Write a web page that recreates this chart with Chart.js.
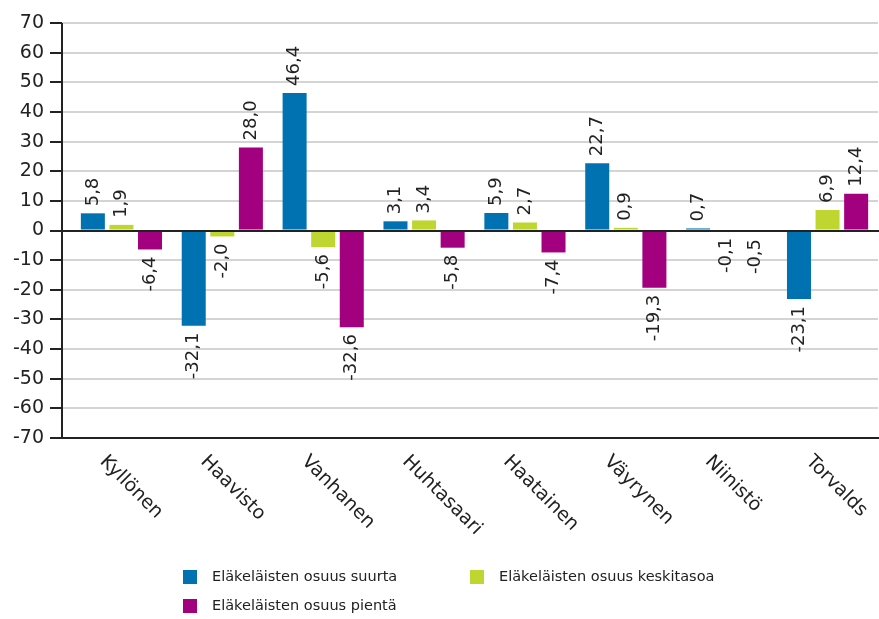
<!DOCTYPE html>
<html>
<head>
<meta charset="utf-8">
<script src="https://cdn.jsdelivr.net/npm/chart.js@4.4.1/dist/chart.umd.min.js"></script>
<style>
  body { margin: 0; background: #fff; }
  #wrap { width: 879px; height: 619px; }
</style>
</head>
<body>
<div id="wrap"><canvas id="myChart"></canvas></div>
<script>
const candidates = ['Kyllönen', 'Haavisto', 'Vanhanen', 'Huhtasaari', 'Haatainen', 'Väyrynen', 'Niinistö', 'Torvalds'];
const seriesNames = ['Eläkeläisten osuus suurta', 'Eläkeläisten osuus keskitasoa', 'Eläkeläisten osuus pientä'];
const suurta = [5.8, -32.1, 46.4, 3.1, 5.9, 22.7, 0.7, -23.1];
const keskitasoa = [1.9, -2.0, -5.6, 3.4, 2.7, 0.9, -0.1, 6.9];
const pienta = [-6.4, 28.0, -32.6, -5.8, -7.4, -19.3, -0.5, 12.4];
const seriesColors = ['#0072b1', '#bed62f', '#a2007e'];
const yMin = -70;
const yMax = 70;
const yStep = 10;

const FONT = '"DejaVu Sans", sans-serif';
const TEXT = '#222';
const AXIS = '#222';
const GRID = '#d4d4d4';

// comma decimals like the original
const fmt = v => v.toFixed(1).replace('.', ',');

// axis lines, value labels, slanted names and the legend
const decorations = {
  id: 'decorations',
  afterDatasetsDraw(chart) {
    const ctx = chart.ctx;
    const area = chart.chartArea;
    const xs = chart.scales.x;
    const ys = chart.scales.y;
    const axisX = area.left - 9;
    ctx.save();

    // grid stubs + tick marks left of the plot
    ys.ticks.forEach(t => {
      const py = Math.round(ys.getPixelForValue(t.value));
      if (t.value !== 0 && t.value !== yMin) {
        ctx.strokeStyle = GRID;
        ctx.lineWidth = 2;
        ctx.beginPath();
        ctx.moveTo(axisX, py);
        ctx.lineTo(area.left, py);
        ctx.stroke();
      }
      ctx.strokeStyle = AXIS;
      ctx.lineWidth = 2;
      ctx.beginPath();
      ctx.moveTo(axisX - 12, py);
      ctx.lineTo(axisX, py);
      ctx.stroke();
    });

    // zero line and bottom axis
    [0, yMin].forEach(v => {
      const py = Math.round(ys.getPixelForValue(v));
      ctx.strokeStyle = AXIS;
      ctx.lineWidth = 2;
      ctx.beginPath();
      ctx.moveTo(axisX - 12, py);
      ctx.lineTo(area.right + 1, py);
      ctx.stroke();
    });

    // vertical axis
    ctx.beginPath();
    ctx.moveTo(axisX, Math.round(ys.getPixelForValue(yMax)));
    ctx.lineTo(axisX, Math.round(ys.getPixelForValue(yMin)) + 1);
    ctx.stroke();

    // value labels, rotated
    ctx.fillStyle = TEXT;
    ctx.font = '18px ' + FONT;
    ctx.textBaseline = 'middle';
    chart.data.datasets.forEach((ds, di) => {
      const meta = chart.getDatasetMeta(di);
      meta.data.forEach((bar, i) => {
        const v = ds.data[i];
        ctx.save();
        if (v >= 0) {
          ctx.translate(bar.x, bar.y - 7);
          ctx.rotate(-Math.PI / 2);
          ctx.textAlign = 'left';
        } else {
          ctx.translate(bar.x, bar.y + 7);
          ctx.rotate(-Math.PI / 2);
          ctx.textAlign = 'right';
        }
        ctx.fillText(fmt(v), 0, 0);
        ctx.restore();
      });
    });

    // category names, slanted down to the right
    ctx.font = '19px ' + FONT;
    ctx.textBaseline = 'top';
    ctx.textAlign = 'left';
    candidates.forEach((name, i) => {
      const cx = xs.getPixelForValue(i);
      ctx.save();
      ctx.translate(cx - 12, area.bottom + 14);
      ctx.rotate(Math.PI / 4);
      ctx.fillText(name, 0, 0);
      ctx.restore();
    });

    // legend, two columns
    const cols = [183, 470];
    const rows = [577, 606];
    ctx.font = '14.5px ' + FONT;
    ctx.textBaseline = 'middle';
    seriesNames.forEach((name, i) => {
      const lx = cols[i % 2];
      const ly = rows[Math.floor(i / 2)];
      ctx.fillStyle = seriesColors[i];
      ctx.fillRect(lx, ly - 7, 14, 14);
      ctx.fillStyle = TEXT;
      ctx.fillText(name, lx + 29, ly);
    });

    ctx.restore();
  }
};

const data = {
  labels: candidates,
  datasets: [suurta, keskitasoa, pienta].map((vals, i) => ({
    label: seriesNames[i],
    data: vals,
    backgroundColor: seriesColors[i],
    borderWidth: 0,
    barPercentage: 0.84,
    categoryPercentage: 0.85
  }))
};

const config = {
  type: 'bar',
  data: data,
  options: {
    responsive: true,
    maintainAspectRatio: false,
    animation: false,
    layout: { padding: { top: 23, right: 1, left: 0, bottom: 0 } },
    plugins: {
      legend: { display: false },
      tooltip: { enabled: false }
    },
    scales: {
      x: {
        grid: { display: false },
        border: { display: false },
        ticks: { display: false },
        afterFit: s => { s.height = 181; }
      },
      y: {
        min: yMin,
        max: yMax,
        ticks: {
          stepSize: yStep,
          padding: 27,
          color: TEXT,
          font: { family: FONT, size: 19 }
        },
        grid: {
          drawTicks: false,
          lineWidth: 2,
          color: c => (c.tick && (c.tick.value === 0 || c.tick.value === yMin)) ? 'rgba(0,0,0,0)' : GRID
        },
        border: { display: false },
        afterFit: s => {
          s.width = 71;
          // tick padding would otherwise push the plot down
          s.paddingTop = 11;
          s.paddingBottom = 11;
        }
      }
    }
  },
  plugins: [decorations]
};

const myChart = new Chart(document.getElementById('myChart'), config);
</script>
</body>
</html>
